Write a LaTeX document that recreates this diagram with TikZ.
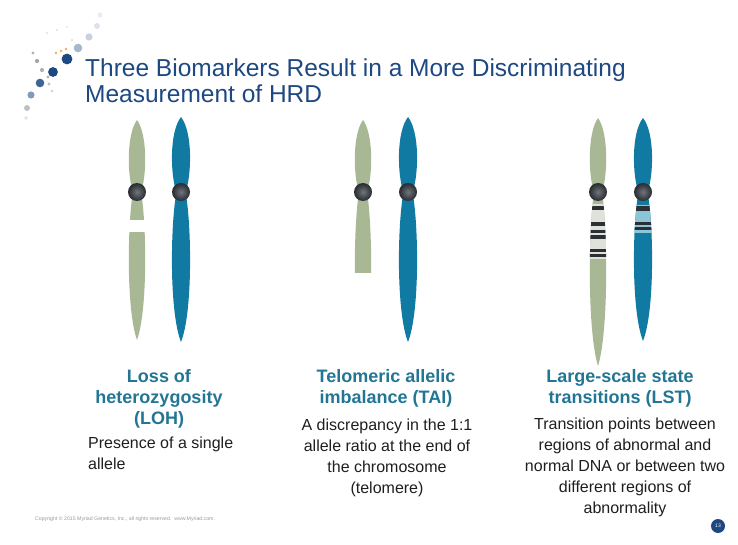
\documentclass[tikz,border=0pt]{standalone}
\usepackage{fontspec}
\setmainfont{Liberation Sans}

\definecolor{titleblue}{RGB}{30,72,130}
\definecolor{headteal}{RGB}{34,118,148}
\definecolor{bodyink}{RGB}{30,30,30}
\definecolor{chrgreen}{RGB}{168,184,148}
\definecolor{chrblue}{RGB}{16,122,163}
\definecolor{centlight}{RGB}{112,116,124}
\definecolor{centdark}{RGB}{40,43,48}
\definecolor{bandlight}{RGB}{222,226,218}
\definecolor{bandblue}{RGB}{140,196,216}
\definecolor{banddark}{RGB}{44,48,52}

\begin{document}
\begin{tikzpicture}[x=1pt,y=-1pt]
    \useasboundingbox (0,0) rectangle (738,545);

    \def\cy{192}    % centromere level
    \def\gw{7.4}    % half width, green chromatid
    \def\bw{8.2}    % half width, blue chromatid

    % one arm: x, tip y, base y, half width, path options
    \def\chrarm#1#2#3#4#5{%
      \path[#5] (#1,#2) .. controls ({#1+1.45*#4},{#2+0.2*(#3-#2)}) and ({#1+1.3*#4},{#3-0.22*(#3-#2)}) .. ({#1+0.55*#4},#3)
        -- ({#1-0.55*#4},#3) .. controls ({#1-1.3*#4},{#3-0.22*(#3-#2)}) and ({#1-1.45*#4},{#2+0.2*(#3-#2)}) .. (#1,#2) -- cycle;}

    \tikzstyle{title}=[font=\fontsize{24.5}{26}\selectfont,text=titleblue,align=left,inner sep=0pt,anchor=north west]
    \tikzstyle{head}=[font=\bfseries\fontsize{18}{21.3}\selectfont,text=headteal,align=center,inner sep=0pt,anchor=north]
    \tikzstyle{body}=[font=\fontsize{16}{21}\selectfont,text=bodyink,align=center,inner sep=0pt,anchor=north]
    \tikzstyle{centro}=[circle,minimum size=18pt,inner sep=0pt,shading=radial,inner color=centlight,outer color=centdark]

    % logo dots
    \foreach \x/\y/\r/\c in {67/59/5.4/titleblue, 53/72/4.9/titleblue, 40/83/4.3/titleblue!85,
                              31/95/3.6/titleblue!55, 27/108/3.0/black!25, 78/48/4.3/titleblue!40,
                              89/37/3.6/titleblue!25, 97/26/3.0/titleblue!15, 100/15/2.4/black!8,
                              33/53/1.7/black!30, 37/61/2.1/black!35, 42/70/2.1/black!30,
                              48/77/1.7/black!30, 49/84/1.6/black!25, 52/91/1.4/black!20,
                              26/118/1.8/black!12, 47/33/1.1/black!12, 57/30/1.1/black!12,
                              67/27/1.1/black!10, 72/40/1.1/black!15}
      \fill[\c] (\x,\y) circle (\r);
    \foreach \x/\y in {56/53, 61/51, 66/49}
      \fill[orange!70] (\x,\y) circle (1.3);

    \node[title] (title) at (85,59) {Three Biomarkers Result in a More Discriminating\\Measurement of HRD};

    % LOH pair
    \chrarm{137}{120}{\cy}{\gw}{fill=chrgreen}
    \chrarm{137}{340}{\cy}{\gw}{fill=chrgreen}
    \fill[white] (125,220) rectangle (150,232);
    \chrarm{181}{117}{\cy}{\bw}{fill=chrblue}
    \chrarm{181}{342}{\cy}{\bw}{fill=chrblue}
    \node[centro] (lohA) at (137,\cy) {};
    \node[centro] (lohB) at (181,\cy) {};

    % TAI pair
    \chrarm{363}{120}{\cy}{\gw}{fill=chrgreen}
    \begin{scope}
      \clip (340,\cy) rectangle (390,272);
      \chrarm{363}{355}{\cy}{\gw}{fill=chrgreen}
    \end{scope}
    \chrarm{408}{117}{\cy}{\bw}{fill=chrblue}
    \chrarm{408}{342}{\cy}{\bw}{fill=chrblue}
    \node[centro] (taiA) at (363,\cy) {};
    \node[centro] (taiB) at (408,\cy) {};

    % LST pair
    \chrarm{598}{118}{\cy}{\gw}{fill=chrgreen}
    \chrarm{598}{366}{\cy}{\gw}{fill=chrgreen}
    \begin{scope}
      \chrarm{598}{366}{\cy}{\gw}{clip}
      \fill[bandlight] (585,204) rectangle (611,259);
      \foreach \a/\b in {206/210, 222/226, 230/233.5, 235/239, 249/252, 254/257}
        \fill[banddark] (585,\a) rectangle (611,\b);
    \end{scope}
    \chrarm{643}{118}{\cy}{\bw}{fill=chrblue}
    \chrarm{643}{341}{\cy}{\bw}{fill=chrblue}
    \begin{scope}
      \chrarm{643}{341}{\cy}{\bw}{clip}
      \fill[bandblue] (630,205) rectangle (656,233);
      \foreach \a/\b in {206/211, 222/225, 227.5/230.5}
        \fill[banddark] (630,\a) rectangle (656,\b);
    \end{scope}
    \node[centro] (lstA) at (598,\cy) {};
    \node[centro] (lstB) at (643,\cy) {};

    % captions
    \node[head] (lohH) at (159,369) {Loss of\\heterozygosity\\(LOH)};
    \node[body,align=left,anchor=north west] (lohT) at (88,437) {Presence of a single\\allele};

    \node[head] (taiH) at (386,369) {Telomeric allelic\\imbalance (TAI)};
    \node[body] (taiT) at (387,419) {A discrepancy in the 1:1\\allele ratio at the end of\\the chromosome\\(telomere)};

    \node[head] (lstH) at (620,369) {Large-scale state\\transitions (LST)};
    \node[body] (lstT) at (625,418) {Transition points between\\regions of abnormal and\\normal DNA or between two\\different regions of\\abnormality};

    % footer
    \node[font=\fontsize{5.2}{6}\selectfont,text=black!40,inner sep=0pt,anchor=west] (copy) at (35,519)
      {Copyright \textcopyright\ 2015 Myriad Genetics, Inc., all rights reserved.\ \ www.Myriad.com.};
    \node[circle,fill=titleblue,minimum size=14pt,inner sep=0pt,text=white,font=\fontsize{5}{6}\selectfont] (page) at (718,526) {13};
\end{tikzpicture}
\end{document}
